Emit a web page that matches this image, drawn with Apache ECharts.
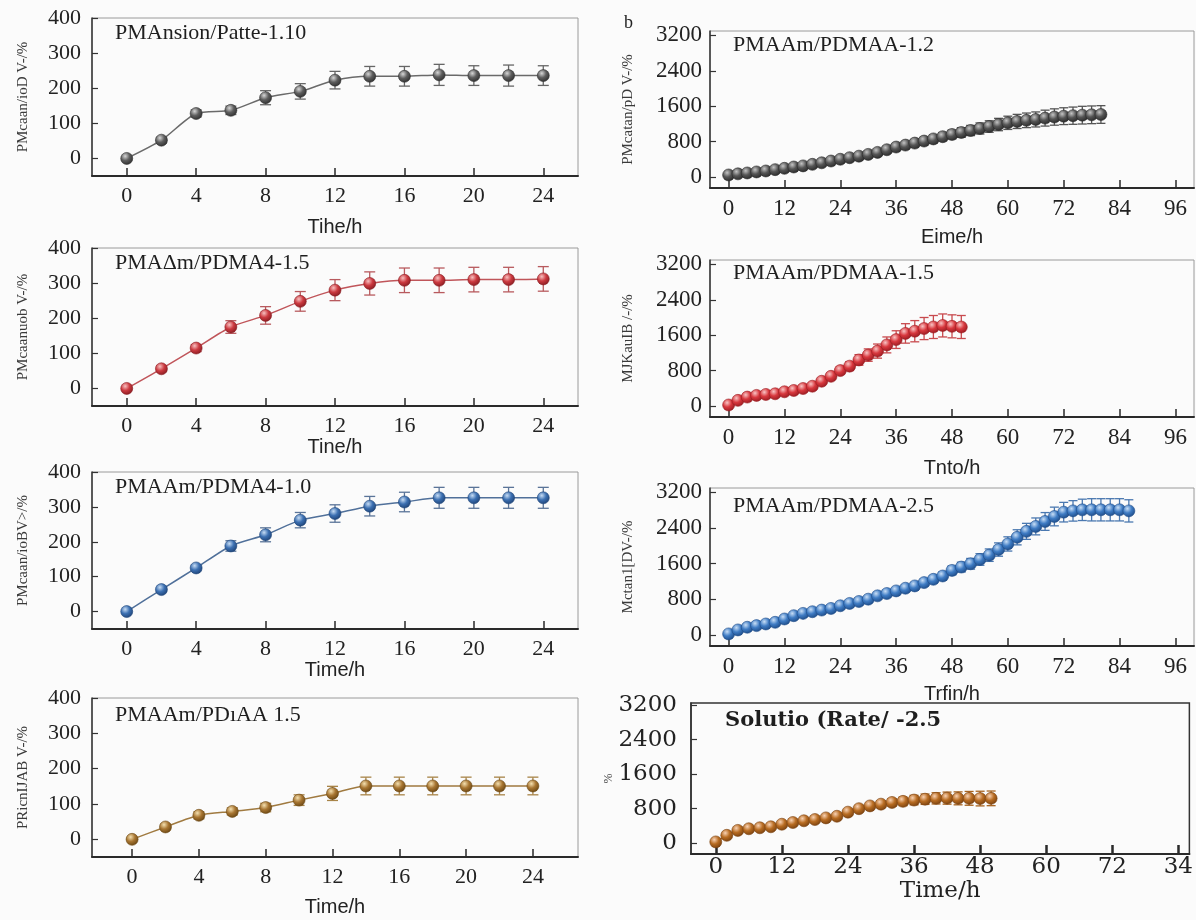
<!DOCTYPE html>
<html>
<head>
<meta charset="utf-8">
<script src="https://cdn.jsdelivr.net/npm/echarts@6/dist/echarts.min.js"></script>
<style>
  html, body { margin: 0; padding: 0; background: #fbfbfb; }
  #main { width: 1196px; height: 920px; }
</style>
</head>
<body>
<div id="main"></div>
<script>
// ---- data ----
var timesLeft = [0, 2, 4, 6, 8, 10, 12, 14, 16, 18, 20, 22, 24];
var swellL1 = [0, 52, 128, 137, 173, 191, 223, 234, 234, 238, 236, 236, 236];
var errL1 = [5, 8, 10, 12, 20, 22, 25, 28, 28, 30, 28, 30, 28];
var swellL2 = [0, 56, 115, 175, 208, 248, 280, 299, 308, 308, 310, 310, 312];
var errL2 = [3, 8, 10, 18, 25, 28, 30, 33, 35, 35, 35, 35, 35];
var swellL3 = [0, 63, 125, 188, 220, 262, 281, 302, 314, 326, 326, 326, 326];
var errL3 = [3, 6, 8, 15, 20, 22, 25, 28, 28, 30, 30, 30, 30];
var swellL4 = [0, 35, 68, 79, 90, 111, 130, 151, 151, 151, 151, 151, 151];
var errL4 = [3, 8, 10, 10, 12, 15, 20, 25, 25, 25, 25, 25, 25];

var timesR1 = [0, 2, 4, 6, 8, 10, 12, 14, 16, 18, 20, 22, 24, 26, 28, 30, 32, 34, 36, 38, 40,
  42, 44, 46, 48, 50, 52, 54, 56, 58, 60, 62, 64, 66, 68, 70, 72, 74, 76, 78, 80];
var swellR1 = [45, 70, 90, 113, 135, 165, 195, 225, 250, 285, 320, 360, 400, 435, 470, 510, 555, 615, 676, 720, 765,
  811, 860, 910, 961, 1005, 1050, 1096, 1140, 1185, 1224, 1255, 1280, 1300, 1330, 1355, 1374, 1385, 1397, 1405, 1412];
var errR1 = [20, 25, 25, 30, 30, 30, 35, 35, 40, 40, 45, 45, 50, 50, 55, 60, 60, 65, 70, 75, 80,
  85, 90, 95, 100, 110, 115, 125, 130, 140, 150, 160, 165, 170, 180, 185, 190, 195, 200, 200, 200];

var timesR2 = [0, 2, 4, 6, 8, 10, 12, 14, 16, 18, 20, 22, 24, 26, 28, 30, 32, 34, 36, 38, 40, 42, 44, 46, 48, 50];
var swellR2 = [22, 126, 200, 238, 260, 275, 320, 350, 394, 446, 558, 670, 800, 900, 1040, 1150, 1240, 1380, 1500,
  1640, 1690, 1750, 1785, 1820, 1800, 1785];
var errR2 = [20, 25, 30, 30, 35, 35, 40, 40, 45, 50, 60, 70, 80, 100, 120, 140, 160, 180, 200,
  220, 240, 250, 260, 260, 260, 260];

var timesR3 = [0, 2, 4, 6, 8, 10, 12, 14, 16, 18, 20, 22, 24, 26, 28, 30, 32, 34, 36, 38, 40, 42,
  44, 46, 48, 50, 52, 54, 56, 58, 60, 62, 64, 66, 68, 70, 72, 74, 76, 78, 80, 82, 84, 86];
var swellR3 = [22, 111, 171, 208, 245, 282, 357, 431, 483, 520, 557, 594, 654, 706, 750, 802, 877, 929, 988, 1048, 1100, 1174,
  1248, 1323, 1449, 1523, 1597, 1694, 1791, 1917, 2043, 2192, 2326, 2437, 2548, 2660, 2757, 2786, 2809, 2810, 2810, 2810, 2810, 2786];
var errR3 = [20, 25, 25, 30, 30, 30, 35, 35, 40, 40, 40, 45, 45, 50, 50, 55, 60, 60, 65, 70, 75, 80,
  85, 90, 100, 110, 120, 130, 140, 150, 160, 170, 180, 190, 200, 210, 220, 230, 240, 250, 250, 250, 250, 250];

var timesR4 = [0, 2, 4, 6, 8, 10, 12, 14, 16, 18, 20, 22, 24, 26, 28, 30, 32, 34, 36, 38, 40, 42, 44, 46, 48, 50];
var swellR4 = [30, 183, 297, 335, 358, 381, 440, 480, 520, 549, 587, 625, 720, 800, 865, 905, 945, 970, 1000,
  1020, 1040, 1045, 1040, 1040, 1035, 1040];
var errR4 = [15, 20, 25, 25, 25, 30, 30, 30, 35, 35, 40, 40, 50, 60, 70, 80, 90, 100, 110,
  120, 130, 140, 150, 160, 170, 170];

// tick labels
var xTicksLeft = [0, 4, 8, 12, 16, 20, 24];
var yTicksLeft = [0, 100, 200, 300, 400];
var xTicksRight = [0, 12, 24, 36, 48, 60, 72, 84, 96];
var yTicksRight = [0, 800, 1600, 2400, 3200];
var xTicksR4 = [0, 12, 24, 36, 48, 60, 72, 84];
var xLabelsR4 = ['0', '12', '24', '36', '48', '60', '72', '34'];

// ---- layout / style per panel ----
var serif = "'Liberation Serif', 'Times New Roman', serif";
var sans = "'Liberation Sans', Arial, sans-serif";
var dejavu = "'DejaVu Serif', serif";

var panels = [
  { title: 'PMAnsion/Patte-1.10', ty: 35, yName: 'PMcaan/ioD V-/%', xName: 'Tihe/h', gapX: 41,
    grid: [92, 18, 486, 158], x: [-2, 26], y: [-50, 400], times: timesLeft, vals: swellL1, errs: errL1,
    light: '#d6d6d6', base: '#5e5e5e', dark: '#303030', line: '#6a6a6a', bar: '#666' },
  { title: 'PMAΔm/PDMA4-1.5', ty: 265, yName: 'PMcaanuob V-/%', xName: 'Tine/h', gapX: 31,
    grid: [92, 248, 486, 158], x: [-2, 26], y: [-50, 400], times: timesLeft, vals: swellL2, errs: errL2,
    light: '#f7c0c0', base: '#cc3a40', dark: '#8a1c22', line: '#c0555a', bar: '#b85a5e' },
  { title: 'PMAAm/PDMA4-1.0', ty: 489, yName: 'PMcaan/ioBV>/%', xName: 'Time/h', gapX: 30,
    grid: [92, 472, 486, 157], x: [-2, 26], y: [-50, 400], times: timesLeft, vals: swellL3, errs: errL3,
    light: '#c6dcf4', base: '#3c70b2', dark: '#1f4478', line: '#50709a', bar: '#5a7498' },
  { title: 'PMAAm/PDıAA 1.5', ty: 717, yName: 'PRicnIJAB V-/%', xName: 'Time/h', gapX: 40,
    grid: [92, 698, 486, 159], x: [-2.4, 26.7], y: [-50, 400], times: timesLeft, vals: swellL4, errs: errL4,
    light: '#f4e0b0', base: '#a87632', dark: '#6c4814', line: '#a07a40', bar: '#a88448' },
  { title: 'PMAAm/PDMAA-1.2', ty: 47, yName: 'PMcatan/pD V-/%', xName: 'Eime/h', gapX: 39,
    grid: [710, 31, 484, 157], x: [-4, 100], y: [-250, 3300], times: timesR1, vals: swellR1, errs: errR1,
    light: '#c4c4c4', base: '#555555', dark: '#2a2a2a', line: '#555', bar: '#555' },
  { title: 'PMAAm/PDMAA-1.5', ty: 275, yName: 'MJKauIB /-/%', xName: 'Tnto/h', gapX: 41,
    grid: [710, 260, 484, 157], x: [-4, 100], y: [-250, 3300], times: timesR2, vals: swellR2, errs: errR2,
    light: '#f8c4c4', base: '#d8383e', dark: '#9a1c22', line: '#d04448', bar: '#c84a4e' },
  { title: 'PMAAm/PDMAA-2.5', ty: 508, yName: 'Mctan1[DV-/%', xName: 'Trfin/h', gapX: 38,
    grid: [710, 488, 484, 158], x: [-4, 100], y: [-250, 3300], times: timesR3, vals: swellR3, errs: errR3,
    light: '#c8def6', base: '#3f7cc4', dark: '#1e4c88', line: '#4476b8', bar: '#4a78b0' },
  { title: 'Solutio (Rate/ -2.5', ty: 723, yName: '%', xName: 'Time/h', gapX: 26,
    grid: [691, 703, 506, 151], x: [-4.5, 86], y: [-250, 3250], times: timesR4, vals: swellR4, errs: errR4,
    light: '#f8d2b4', base: '#b86c22', dark: '#7a4210', line: '#b06a28', bar: '#a86420', r4: true }
];

function errRender(capW) {
  return function (params, api) {
    var x = api.value(0);
    var lo = api.coord([x, api.value(1)]);
    var hi = api.coord([x, api.value(2)]);
    var st = { stroke: api.visual('color'), lineWidth: 1.3 };
    return {
      type: 'group',
      children: [
        { type: 'line', shape: { x1: lo[0], y1: lo[1], x2: hi[0], y2: hi[1] }, style: st },
        { type: 'line', shape: { x1: lo[0] - capW, y1: lo[1], x2: lo[0] + capW, y2: lo[1] }, style: st },
        { type: 'line', shape: { x1: hi[0] - capW, y1: hi[1], x2: hi[0] + capW, y2: hi[1] }, style: st }
      ]
    };
  };
}

var grids = [], xAxes = [], yAxes = [], series = [], graphics = [];

panels.forEach(function (p, i) {
  var isLeft = i < 4;
  var isR4 = !!p.r4;
  var tickFont = isR4 ? dejavu : serif;
  var tickSize = isR4 ? 23 : (isLeft ? 22 : 23);

  grids.push({
    left: p.grid[0], top: p.grid[1], width: p.grid[2], height: p.grid[3],
    show: true, borderColor: isR4 ? '#333' : '#9a9a9a', borderWidth: isR4 ? 1.5 : 1,
    backgroundColor: 'transparent'
  });

  var xTicks = isLeft ? xTicksLeft : (isR4 ? xTicksR4 : xTicksRight);
  xAxes.push({
    type: 'value', gridIndex: i, min: p.x[0], max: p.x[1],
    splitLine: { show: false },
    axisLine: { onZero: false, lineStyle: { color: '#2a2a2a', width: 2 } },
    axisTick: { inside: true, length: isR4 ? 9 : 8, customValues: xTicks,
      lineStyle: { color: '#2a2a2a', width: isR4 ? 2.5 : 1.5 } },
    axisLabel: {
      customValues: xTicks, margin: isR4 ? 2 : 9,
      color: '#222', fontFamily: tickFont, fontSize: tickSize,
      formatter: function (v) {
        if (isR4) { return xLabelsR4[xTicksR4.indexOf(v)]; }
        return String(v);
      }
    },
    name: p.xName, nameLocation: 'middle', nameGap: p.gapX,
    nameTextStyle: { color: '#222', fontFamily: isR4 ? dejavu : sans, fontSize: isR4 ? 23 : 20 }
  });

  var yTicks = isLeft ? yTicksLeft : yTicksRight;
  yAxes.push({
    type: 'value', gridIndex: i, min: p.y[0], max: p.y[1],
    splitLine: { show: false },
    axisLine: { show: true, onZero: false, lineStyle: { color: '#333', width: 1.5 } },
    axisTick: { inside: true, length: 6, customValues: yTicks, lineStyle: { color: '#333', width: 1.2 } },
    axisLabel: { customValues: yTicks, margin: isR4 ? 14 : (isLeft ? 11 : 8),
      color: '#222', fontFamily: tickFont, fontSize: tickSize,
      formatter: function (v) { return String(v); } },
    name: p.yName, nameLocation: 'middle', nameRotate: 90,
    nameGap: isR4 ? 76 : (isLeft ? 61 : 74),
    nameTextStyle: { color: '#3a3a3a', fontFamily: serif, fontSize: isR4 ? 12 : 15 }
  });

  var pts = [], bars = [];
  for (var k = 0; k < p.times.length; k++) {
    pts.push([p.times[k], p.vals[k]]);
    bars.push([p.times[k], p.vals[k] - p.errs[k], p.vals[k] + p.errs[k]]);
  }

  series.push({
    type: 'custom', xAxisIndex: i, yAxisIndex: i, z: 2,
    renderItem: errRender(isLeft ? 5.5 : 4.5),
    itemStyle: { color: p.bar },
    encode: { x: 0, y: [1, 2] },
    data: bars, silent: true
  });

  series.push({
    type: 'line', xAxisIndex: i, yAxisIndex: i, z: 3,
    smooth: 0.25, symbol: 'circle', symbolSize: isLeft ? 12 : 12,
    showAllSymbol: true,
    lineStyle: { color: p.line, width: 1.5 },
    itemStyle: {
      color: new echarts.graphic.RadialGradient(0.38, 0.32, 0.7, [
        { offset: 0, color: p.light },
        { offset: 0.5, color: p.base },
        { offset: 1, color: p.dark }
      ]),
      borderColor: p.dark, borderWidth: 0.6
    },
    data: pts, animation: false, silent: true
  });

  graphics.push({
    type: 'text', left: isLeft ? 115 : (isR4 ? 725 : 733), top: p.ty - 13,
    style: {
      text: p.title, fill: '#1e1e1e',
      font: isR4 ? 'bold 21px ' + dejavu : '22px ' + serif
    }
  });
});

graphics.push({
  type: 'text', left: 624, top: 14,
  style: { text: 'b', fill: '#222', font: '18px ' + serif }
});

var chart = echarts.init(document.getElementById('main'));
chart.setOption({
  backgroundColor: '#fbfbfb',
  animation: false,
  grid: grids,
  xAxis: xAxes,
  yAxis: yAxes,
  series: series,
  graphic: graphics
});
</script>
</body>
</html>
